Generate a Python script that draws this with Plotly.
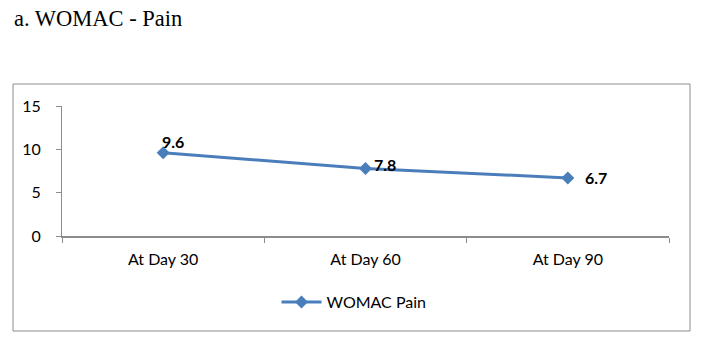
import plotly.graph_objects as go

categories = ["At Day 30", "At Day 60", "At Day 90"]
womac_pain = [9.6, 7.8, 6.7]
series_name = "WOMAC Pain"
y_ticks = [0, 5, 10, 15]

W, H = 710, 344
L, R, T, B = 62, 41, 106, 108
pw, ph = W - L - R, H - T - B

def px_x(x):
    return (x - L) / pw

def px_y(y):
    return (H - B - y) / ph

line_color = "#4A7EBB"
axis_color = "#8C8C8C"

fig = go.Figure()
fig.add_trace(go.Scatter(
    x=categories, y=womac_pain, mode="lines+markers", name=series_name,
    line=dict(color=line_color, width=3),
    marker=dict(symbol="diamond", size=10, color=line_color),
))

# data labels
label_shift = [(10, 11), (19, 4), (28, 0)]
for c, v, (dx, dy) in zip(categories, womac_pain, label_shift):
    fig.add_annotation(x=c, y=v, text=f"<b>{v}</b>", showarrow=False,
                       xshift=dx, yshift=dy, xanchor="center", yanchor="middle",
                       font=dict(family="Lato", size=16, color="#000000"))

fig.add_shape(type="rect", xref="paper", yref="paper",
              x0=px_x(13), x1=px_x(690), y0=px_y(331), y1=px_y(84),
              line=dict(color=axis_color, width=1), layer="below")

fig.update_layout(
    width=W, height=H, margin=dict(l=L, r=R, t=T, b=B, autoexpand=False),
    plot_bgcolor="white", paper_bgcolor="white",
    title=dict(text="a. WOMAC - Pain", x=14 / W, xanchor="left", xref="container",
               y=1 - 18 / H, yanchor="middle", yref="container",
               font=dict(family="Liberation Serif", size=22.5, color="#000000")),
    showlegend=True,
    legend=dict(orientation="h", x=px_x(354), xanchor="center", y=px_y(302), yanchor="middle",
                font=dict(family="Lato", size=16, color="#000000"), itemwidth=40,
                bgcolor="rgba(0,0,0,0)"),
    font=dict(family="Lato", size=16, color="#000000"),
)
fig.update_xaxes(type="category", range=[-0.5, 2.5], tickson="boundaries", ticks="outside",
                 ticklen=5, tickcolor=axis_color, showline=True, linecolor=axis_color,
                 linewidth=1.5, showgrid=False, zeroline=False,
                 tickfont=dict(family="Lato", size=16, color="#000000"), ticklabelstandoff=8)
fig.update_yaxes(range=[0, 15], tickvals=y_ticks, ticks="outside", ticklen=5,
                 tickcolor=axis_color, showline=True, linecolor=axis_color, linewidth=1,
                 showgrid=False, zeroline=False,
                 tickfont=dict(family="Lato", size=16, color="#000000"), ticklabelstandoff=12)

fig.write_html("out.html")
